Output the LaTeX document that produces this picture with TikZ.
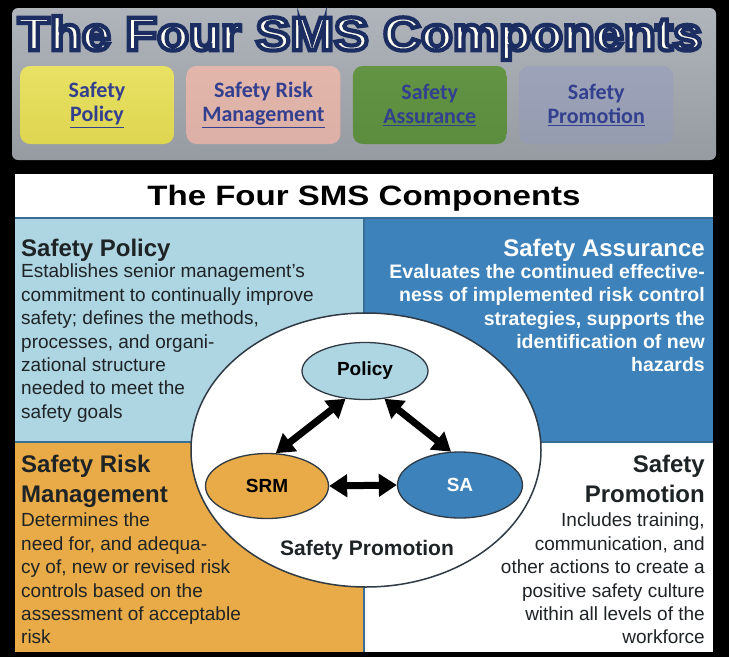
\documentclass[tikz,border=0pt]{standalone}
\usepackage{fontspec}
\setmainfont{Liberation Sans}
\newfontfamily\widefont{Liberation Sans}[FakeStretch=1.18]
\newfontfamily\bannerfont{Liberation Sans Bold}[FakeBold=9,FakeStretch=1.11]
\newfontfamily\tabfont{Carlito}
\usepackage{tikz}
\usetikzlibrary{calc}
\usetikzlibrary{arrows.meta,shapes.geometric,positioning}

\definecolor{polblue}{HTML}{AED6E2}
\definecolor{sablue}{HTML}{3D82BA}
\definecolor{srmorange}{HTML}{E8AB47}
\definecolor{rulblue}{HTML}{3A6D95}
\definecolor{rimgray}{HTML}{2F3A44}
\definecolor{linkblue}{HTML}{333F8F}
\definecolor{inkgray}{HTML}{1E2326}

\begin{document}
\begin{tikzpicture}[x=1pt,y=-1pt,
	banner/.style={text=white!94!yellow,font=\bannerfont\fontsize{47}{52}\selectfont},
	tab/.style={rounded corners=10pt,minimum width=154pt,minimum height=78pt,align=center,text=linkblue,font=\tabfont\bfseries\fontsize{22}{24}\selectfont},
	comp/.style={ellipse,draw=rimgray,line width=1.3pt,inner sep=0pt,font=\bfseries\fontsize{19}{21}\selectfont},
	link/.style={line width=7pt,{Triangle[width=22pt,length=18pt]}-{Triangle[width=22pt,length=18pt]}},
	head/.style={inner sep=0pt,text=inkgray,font=\bfseries\fontsize{24}{30}\selectfont},
	body/.style={inner sep=0pt,text=inkgray,font=\fontsize{19}{23.4}\selectfont}]
	\fill[black] (0,0) rectangle (729,657);
	\shade[rounded corners=6pt,top color={rgb,255:red,176;green,181;blue,187},middle color={rgb,255:red,208;green,212;blue,216},bottom color={rgb,255:red,150;green,155;blue,161}] (12,8) rectangle (716,160);
	\node[banner] (banner) at (360,38) {\special{pdf:literal direct 0.11 0.18 0.38 RG}The Four SMS Components};
	\node[tab,top color={rgb,255:red,232;green,225;blue,100},middle color={rgb,255:red,244;green,240;blue,160},bottom color={rgb,255:red,222;green,214;blue,80}] (pol) at (97,105) {Safety\\\underline{Policy}};
	\node[tab,right=12pt of pol,top color={rgb,255:red,226;green,182;blue,170},middle color={rgb,255:red,242;green,214;blue,205},bottom color={rgb,255:red,220;green,176;blue,166}] (srm) {Safety Risk\\\underline{Management}};
	\node[tab,right=12pt of srm,top color={rgb,255:red,98;green,148;blue,68},middle color={rgb,255:red,172;green,206;blue,140},bottom color={rgb,255:red,92;green,140;blue,62}] (sa) {Safety\\\underline{Assurance}};
	\node[tab,right=12pt of sa,top color={rgb,255:red,156;green,162;blue,184},middle color={rgb,255:red,238;green,241;blue,250},bottom color={rgb,255:red,150;green,156;blue,176}] (sp) {Safety\\\underline{Promotion}};

	\fill[white] (15,174) rectangle (713,652);
	\node[font=\widefont\bfseries\fontsize{28}{32}\selectfont,text=black] (title) at (364,198) {The Four SMS Components};
	\fill[polblue] (15,219) rectangle (364,442);
	\fill[sablue] (364,219) rectangle (713,442);
	\fill[srmorange] (15,442) rectangle (364,652);
	\draw[rulblue,line width=2pt] (15,218) -- (713,218);
	\draw[rulblue,line width=2pt] (15,442) -- (713,442);
	\draw[rulblue,line width=2.5pt] (364,219) -- (364,652);

	\node[head,anchor=base west] (sphead) at (21,256) {Safety Policy};
	\node[body,anchor=north west,align=left] (sptext) at (21,264) {Establishes senior management's\\commitment to continually improve\\safety; defines the methods,\\processes, and organi-\\zational structure\\needed to meet the\\safety goals};
	\node[head,anchor=base east,text=white] (sahead) at (705,256) {Safety Assurance};
	\node[body,anchor=north east,align=right,text=white,font=\bfseries\fontsize{19.5}{23.4}\selectfont] (satext) at (705,264) {Evaluates the continued effective-\\ness of implemented risk control\\strategies, supports the\\identification of new\\hazards};
	\node[head,anchor=north west,align=left] (srmhead) at (21,455) {Safety Risk\\Management};
	\node[body,anchor=north west,align=left] (srmtext) at (21,513) {Determines the\\need for, and adequa-\\cy of, new or revised risk\\controls based on the\\assessment of acceptable\\risk};
	\node[head,anchor=north east,align=right] (sphead2) at (705,455) {Safety\\Promotion};
	\node[body,anchor=north east,align=right] (sptext2) at (705,513) {Includes training,\\communication, and\\other actions to create a\\positive safety culture\\within all levels of the\\workforce};

	\node[ellipse,draw=rimgray,fill=white,line width=1.5pt,minimum width=350pt,minimum height=274pt] (ring) at (366,450) {};
	\node[comp,fill=polblue,minimum width=126pt,minimum height=57pt] (polc) at (365,371) {Policy};
	\node[comp,fill=srmorange,minimum width=123pt,minimum height=65pt] (srmc) at (267,486) {SRM};
	\node[comp,fill=sablue,text=white,minimum width=125pt,minimum height=66pt] (sac) at (460,485) {SA};
	\draw[link] (polc.235) -- (srmc.75);
	\draw[link] (polc.305) -- (sac.105);
	\draw[link] (srmc.east) -- (sac.west);
	\node[font=\bfseries\fontsize{21}{24}\selectfont,text=inkgray] (promo) at (367,550) {Safety Promotion};
\end{tikzpicture}
\end{document}
